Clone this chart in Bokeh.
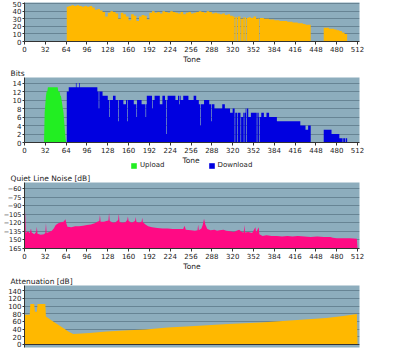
import numpy as np
from bokeh.plotting import figure
from bokeh.layouts import column
from bokeh.models import FixedTicker, Range1d, Legend, LegendItem, Label
from bokeh.embed import file_html
from bokeh.resources import INLINE

# ---------------- data ----------------
tone_ticks = list(range(0, 513, 32))
n_tones = 512

# SNR [dB], one value per 4-tone block starting at tone 64
snr_block_start = 64
snr_blocks = [46, 47, 48, 47, 48, 47, 46, 47, 46, 47, 45, 42, 43, 41, 39, 33,
              38, 40, 39, 37, 30, 38, 36, 33, 28, 36, 34, 27, 33, 35, 34, 29,
              38, 40, 38, 39, 37, 40, 39, 38, 40, 39, 38, 37, 39, 36, 38, 39,
              37, 38, 39, 40, 39, 38, 40, 39, 37, 38, 37, 36, 37, 35, 36, 34,
              33, 32, 33, 30, 32, 31, 32, 31, 33, 30, 31, 31, 30, 30, 29, 29,
              28, 28, 27, 27, 27, 26, 26, 25, 25, 24, 24, 23, 22, 22, 0, 0,
              0, 0, 0, 18, 18, 17, 17, 16, 15, 14, 12, 10, 0, 0, 0, 0]
snr_zero_tones = [64, 323, 327, 332, 337, 341, 361]

# Bits per tone, one value per 4-tone block starting at tone 64 (download)
bits_block_start = 64
bits_blocks = [12, 13, 13, 13, 13, 13, 13, 13, 13, 13, 13, 13, 12, 12, 11, 11,
               10, 10, 11, 10, 10, 10, 9, 10, 10, 10, 9, 10, 10, 9, 9, 11,
               11, 10, 11, 11, 9, 11, 10, 11, 11, 11, 10, 11, 10, 11, 11, 10,
               10, 11, 10, 9, 9, 10, 10, 9, 9, 8, 8, 8, 9, 8, 8, 7,
               8, 7, 7, 6, 7, 8, 6, 7, 7, 7, 6, 7, 6, 7, 6, 6,
               6, 5, 5, 5, 5, 5, 5, 5, 5, 5, 4, 4, 3, 4, 0, 0,
               0, 0, 0, 3, 3, 3, 2, 2, 2, 1, 1, 1, 0, 0, 0, 0]
bits_fix_tones = [64, 79, 84, 114, 130, 144, 158, 172, 186, 196, 218, 238,
                  270, 287, 323, 327, 332, 337, 341, 357, 361, 489, 493]
bits_fix_vals = [0, 14, 14, 8, 6, 5, 5, 6, 6, 8, 2, 9,
                 4, 5, 0, 0, 0, 0, 0, 0, 0, 0, 0]

# Upload bits per tone
upload_tones = list(range(30, 65))
upload_bits = [0, 7, 9, 11, 12, 12, 13, 13, 13, 13, 13, 13, 13, 13, 13, 13,
               13, 13, 13, 13, 13, 13, 12, 12, 12, 11, 11, 10, 9, 8, 7, 5,
               3, 1, 0]

# Quiet line noise [dB]
noise_tones = [0, 1, 2, 5, 8, 10, 11, 15, 18, 19, 20, 25, 30, 32, 33, 34, 38,
               42, 45, 48, 52, 56, 60, 63, 64, 66, 72, 78, 84, 90, 96, 102,
               108, 112, 115, 116, 117, 122, 126, 129, 130, 131, 136, 140,
               144, 145, 146, 150, 155, 158, 159, 160, 165, 170, 171, 172,
               176, 180, 181, 182, 186, 190, 196, 204, 212, 220, 228, 236,
               244, 246, 248, 256, 262, 266, 267, 268, 272, 274, 276, 278,
               281, 286, 292, 296, 300, 306, 310, 316, 322, 326, 330, 334,
               337, 338, 339, 344, 350, 355, 356, 360, 361, 366, 372, 380,
               388, 396, 404, 412, 420, 430, 440, 450, 460, 470, 474, 480,
               490, 500, 511, 512]
noise_db = [-140, -100, -138, -135, -138, -130, -137, -140, -136, -127, -139,
            -141, -140, -138, -121, -138, -136, -134, -130, -124, -121, -119,
            -118, -114, -120, -127, -128, -126, -126, -125, -124, -123, -121,
            -118, -117, -106, -118, -118, -117, -116, -103, -117, -120, -119,
            -115, -104, -118, -120, -119, -115, -109, -117, -120, -117, -110,
            -118, -120, -118, -111, -119, -123, -126, -128, -129, -130, -130,
            -131, -131, -131, -125, -132, -133, -134, -133, -123, -133, -130,
            -124, -113, -123, -131, -133, -132, -134, -133, -132, -134, -135,
            -136, -134, -132, -136, -137, -124, -137, -136, -138, -128, -137,
            -128, -140, -143, -142, -143, -143, -144, -143, -144, -143, -144,
            -145, -144, -145, -145, -146, -147, -147, -147, -148, -165]

# Attenuation [dB]
atten_tones = [0, 8, 9, 15, 16, 19, 20, 32, 33, 40, 50, 60, 68, 75, 100, 126,
               160, 186, 220, 262, 313, 363, 414, 464, 490, 511, 512]
atten_db = [77, 77, 105, 105, 85, 85, 105, 105, 73, 64, 53, 42, 33, 27, 30,
            34, 37, 39, 44, 48, 53, 57, 63, 69, 74, 79, 0]

# ---------------- helpers ----------------
BG = "#8DADBD"
GRID = "#678494"
ORANGE = "#FFB800"
BLUE = "#0000E0"
GREEN = "#22EE22"
PINK = "#FF0A84"
FONT = "DejaVu Sans"
TXT = "#222222"


def per_tone(start, blocks, fix_tones, fix_vals):
    vals = np.zeros(n_tones)
    for i, v in enumerate(blocks):
        vals[start + 4 * i:start + 4 * i + 4] = v
    for t, v in zip(fix_tones, fix_vals):
        vals[t] = v
    return vals


def step_xy(vals):
    t = np.arange(len(vals), dtype=float)
    xs = np.repeat(t, 2)
    xs[1::2] += 1
    ys = np.repeat(vals, 2)
    return xs, ys


def make_fig(h, top, bottom, yr, title=None, tone_label=True):
    p = figure(width=384, height=h, x_range=Range1d(0, 515), y_range=Range1d(*yr),
               toolbar_location=None, output_backend="svg",
               min_border_left=19, min_border_right=25,
               min_border_top=top, min_border_bottom=bottom)
    if title is None:
        p.title = None
    else:
        p.title.text = title
        p.title.align = "left"
        p.title.offset = -14
        p.title.text_font = FONT
        p.title.text_font_size = "7.5px"
        p.title.text_font_style = "normal"
        p.title.text_color = TXT
        p.title.standoff = 0
    p.background_fill_color = BG
    p.border_fill_color = "white"
    p.outline_line_color = None
    p.xgrid.grid_line_color = None
    p.ygrid.grid_line_color = GRID
    p.ygrid.grid_line_width = 1
    for ax in p.axis:
        ax.axis_line_color = "#333333"
        ax.major_tick_line_color = "#333333"
        ax.minor_tick_line_color = None
        ax.major_tick_in = 0
        ax.major_tick_out = 2
        ax.major_label_standoff = 1
        ax.major_label_text_font = FONT
        ax.major_label_text_font_size = "7px"
        ax.major_label_text_color = TXT
    p.xaxis.ticker = FixedTicker(ticks=tone_ticks)
    p.xaxis.major_tick_out = 3
    if tone_label:
        p.xaxis.axis_label = "Tone"
        p.xaxis.axis_label_text_font = FONT
        p.xaxis.axis_label_text_font_size = "7.5px"
        p.xaxis.axis_label_text_font_style = "normal"
        p.xaxis.axis_label_text_color = TXT
        p.xaxis.axis_label_standoff = 0
    return p


# ---------------- panel 1: SNR ----------------
snr = per_tone(snr_block_start, snr_blocks, snr_zero_tones, [0] * len(snr_zero_tones))
p1 = make_fig(66, 2, 22, (0, 51.5))
xs, ys = step_xy(snr)
p1.varea(x=xs, y1=0, y2=ys, fill_color=ORANGE)
p1.yaxis.ticker = FixedTicker(ticks=[0, 10, 20, 30, 40, 50])
p1.ygrid.ticker = FixedTicker(ticks=[0, 10, 20, 30, 40, 50])

# ---------------- panel 2: Bits ----------------
bits = per_tone(bits_block_start, bits_blocks, bits_fix_tones, bits_fix_vals)
p2 = make_fig(89, 11, 12, (0, 15.3), "Bits", tone_label=False)
xs, ys = step_xy(bits)
p2.varea(x=upload_tones, y1=0, y2=upload_bits, fill_color=GREEN)
p2.varea(x=xs, y1=0, y2=ys, fill_color=BLUE)
p2.yaxis.ticker = FixedTicker(ticks=list(range(0, 15, 2)))
p2.ygrid.ticker = FixedTicker(ticks=list(range(0, 15, 2)))

# legend row (with the "Tone" caption of the Bits panel)
pl = figure(width=384, height=14, x_range=Range1d(0, 515), y_range=Range1d(-100, -99),
            toolbar_location=None, output_backend="svg",
            min_border_left=19, min_border_right=25, min_border_top=0, min_border_bottom=0,
            x_axis_location=None, y_axis_location=None)
pl.title = None
pl.grid.visible = False
pl.outline_line_color = None
pl.background_fill_color = "white"
pl.border_fill_color = "white"
r_up = pl.varea(x=upload_tones, y1=0, y2=upload_bits, fill_color=GREEN)
r_dn = pl.varea(x=xs, y1=0, y2=ys, fill_color=BLUE)
legend = Legend(items=[LegendItem(label="Upload", renderers=[r_up]),
                       LegendItem(label="Download", renderers=[r_dn])],
                orientation="horizontal", location=(106, 0), spacing=43,
                glyph_width=7, glyph_height=7, label_standoff=3, label_height=8,
                label_width=10, padding=0, margin=0, border_line_color=None,
                background_fill_alpha=0, label_text_font=FONT,
                label_text_font_size="7px", label_text_color=TXT)
pl.add_layout(legend)
pl.add_layout(Label(x=256, y=14, x_units="data", y_units="screen", text="Tone",
                    text_align="center", text_baseline="top", text_font=FONT,
                    text_font_size="7.5px", text_color=TXT))

# ---------------- panel 3: Quiet line noise ----------------
p3 = make_fig(105, 13, 26, (-165, -49.5), "Quiet Line Noise [dB]")
p3.varea(x=noise_tones, y1=-165, y2=noise_db, fill_color=PINK)
nt = [-165, -150, -135, -120, -105, -90, -75, -60]
p3.yaxis.ticker = FixedTicker(ticks=nt)
p3.ygrid.ticker = FixedTicker(ticks=nt)
p3.yaxis.major_label_overrides = {-150: "150", -165: "165"}
p3.yaxis.major_label_text_font_size = "6.5px"

# ---------------- panel 4: Attenuation ----------------
p4 = make_fig(74, 9, 1, (-8, 153.5), "Attenuation [dB]")
p4.varea(x=atten_tones, y1=0, y2=atten_db, fill_color=ORANGE)
at = [0, 20, 40, 60, 80, 100, 120, 140]
p4.yaxis.ticker = FixedTicker(ticks=at)
p4.ygrid.ticker = FixedTicker(ticks=at)
p4.xaxis.visible = False
p4.hspan(y=[0], line_color="#333333", line_width=1)

layout = column(p1, p2, pl, p3, p4, spacing=0)
open("out.html", "w").write(file_html(layout, INLINE))
